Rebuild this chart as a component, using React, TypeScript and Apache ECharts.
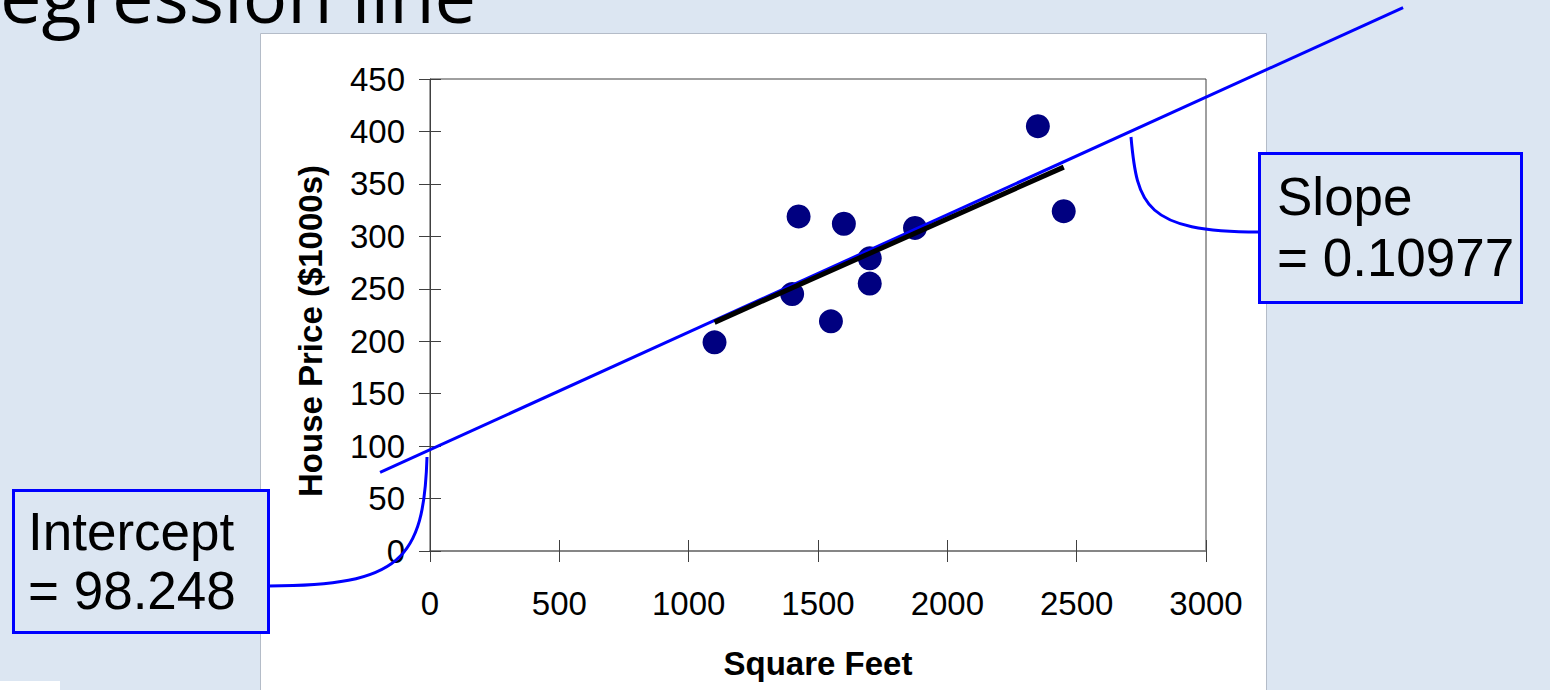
import React, { useEffect, useRef } from "react";
import * as echarts from "echarts";

const titleText = "egression line";
const xAxisTitle = "Square Feet";
const yAxisTitle = "House Price ($1000s)";

const squareFeet = [1400, 1600, 1700, 1875, 1100, 1550, 2350, 2450, 1425, 1700];
const housePrice = [245, 312, 279, 308, 199, 219, 405, 324, 319, 255];

// Excel trendline drawn over the data range
const trendX = [1100, 2450];
const trendY = [218, 366];

// hand-drawn extended regression line (blue)
const fitLineX = [-193, 3762];
const fitLineY = [75, 518];

const interceptLines = ["Intercept", "= 98.248"];
const slopeLines = ["Slope", "= 0.10977"];

const xMin = 0, xMax = 3000, xStep = 500;
const yMin = 0, yMax = 450, yStep = 50;

const FONT = "'Liberation Sans', Arial, Helvetica, sans-serif";
const BG = "#dce6f2";
const BLUE = "#0000ff";

export default function App() {
  const ref = useRef<HTMLDivElement>(null);

  useEffect(() => {
    const chart = echarts.init(ref.current!, null, { renderer: "svg" });

    const tickStyle = { color: "#404040", width: 1 };
    const labelStyle = { fontFamily: FONT, fontSize: 33, color: "#000" };
    const nameStyle = { fontFamily: FONT, fontSize: 33, fontWeight: "bold" as const, color: "#000" };
    const plain = (v: number) => String(v);

    const calloutText = (text: string, x: number, y: number) => ({
      type: "text",
      z: 21,
      silent: true,
      style: {
        text,
        x,
        y,
        fontFamily: FONT,
        fontSize: 53,
        fill: "#000",
        textAlign: "left",
        textVerticalAlign: "middle",
        verticalAlign: "middle",
      },
    });

    chart.setOption({
      animation: false,
      backgroundColor: BG,
      grid: {
        left: 430,
        top: 79,
        right: 344,
        bottom: 139,
        show: true,
        borderColor: "#404040",
        borderWidth: 1,
        backgroundColor: "transparent",
      },
      xAxis: [
        {
          type: "value",
          min: xMin,
          max: xMax,
          interval: xStep,
          name: xAxisTitle,
          nameLocation: "middle",
          nameGap: 96,
          nameTextStyle: nameStyle,
          axisLine: { show: true, onZero: false, lineStyle: { color: "#868686", width: 2 } },
          axisTick: { show: true, length: 11, lineStyle: tickStyle },
          axisLabel: { margin: 36, formatter: plain, ...labelStyle },
          splitLine: { show: false },
        },
        {
          type: "value",
          min: xMin,
          max: xMax,
          interval: xStep,
          position: "bottom",
          axisLine: { show: false },
          axisTick: { show: true, inside: true, length: 11, lineStyle: tickStyle },
          axisLabel: { show: false },
          splitLine: { show: false },
        },
      ],
      yAxis: [
        {
          type: "value",
          min: yMin,
          max: yMax,
          interval: yStep,
          name: yAxisTitle,
          nameLocation: "middle",
          nameGap: 103,
          nameRotate: 90,
          nameTextStyle: { ...nameStyle, padding: [0, 32, 0, 0] },
          axisLine: { show: true, onZero: false, lineStyle: { color: "#404040", width: 1 } },
          axisTick: { show: true, length: 11, lineStyle: tickStyle },
          axisLabel: { margin: 25, formatter: plain, ...labelStyle },
          splitLine: { show: false },
        },
        {
          type: "value",
          min: yMin,
          max: yMax,
          interval: yStep,
          position: "left",
          axisLine: { show: false },
          axisTick: { show: true, inside: true, length: 11, lineStyle: tickStyle },
          axisLabel: { show: false },
          splitLine: { show: false },
        },
      ],
      series: [
        {
          type: "scatter",
          name: "Observed",
          data: squareFeet.map((x, i) => [x, housePrice[i]]),
          symbol: "circle",
          symbolSize: 24,
          itemStyle: { color: "#000080", opacity: 1 },
          z: 2,
        },
        {
          type: "custom",
          name: "Regression line",
          clip: false,
          data: [[fitLineX[0], fitLineY[0], fitLineX[1], fitLineY[1]]],
          encode: { x: [0, 2], y: [1, 3] },
          renderItem: (_params: any, api: any) => {
            const p1 = api.coord([api.value(0), api.value(1)]);
            const p2 = api.coord([api.value(2), api.value(3)]);
            return {
              type: "line",
              shape: { x1: p1[0], y1: p1[1], x2: p2[0], y2: p2[1] },
              style: { stroke: BLUE, lineWidth: 3 },
            };
          },
          z: 3,
        },
        {
          type: "line",
          name: "Trendline",
          data: trendX.map((x, i) => [x, trendY[i]]),
          symbol: "none",
          lineStyle: { color: "#000", width: 5 },
          z: 4,
        },
      ],
      graphic: [
        {
          type: "rect",
          z: -10,
          silent: true,
          shape: { x: 260.5, y: 33.5, width: 1006, height: 700 },
          style: { fill: "#fff", stroke: "#b4bcc8", lineWidth: 1 },
        },
        {
          type: "rect",
          z: -10,
          silent: true,
          shape: { x: 0, y: 681, width: 60, height: 9 },
          style: { fill: "#fff" },
        },
        {
          type: "text",
          z: 20,
          silent: true,
          style: {
            text: titleText,
            x: 0,
            y: -6,
            fontFamily: "'Open Sans', 'Noto Sans', sans-serif",
            fontSize: 74,
            fill: "#000",
            textAlign: "left",
            textVerticalAlign: "middle",
            verticalAlign: "middle",
          },
        },
        {
          type: "bezierCurve",
          z: 19,
          silent: true,
          shape: { x1: 269, y1: 586, cpx1: 400, cpy1: 586, cpx2: 424, cpy2: 560, x2: 427, y2: 457 },
          style: { stroke: BLUE, lineWidth: 3, fill: null },
        },
        {
          type: "rect",
          z: 20,
          silent: true,
          shape: { x: 13.5, y: 490.5, width: 255, height: 142 },
          style: { fill: BG, stroke: BLUE, lineWidth: 3 },
        },
        calloutText(interceptLines[0], 28, 531),
        calloutText(interceptLines[1], 28, 590),
        {
          type: "bezierCurve",
          z: 19,
          silent: true,
          shape: { x1: 1259, y1: 232, cpx1: 1145, cpy1: 232, cpx2: 1137, cpy2: 205, x2: 1131, y2: 137 },
          style: { stroke: BLUE, lineWidth: 3, fill: null },
        },
        {
          type: "rect",
          z: 20,
          silent: true,
          shape: { x: 1259.5, y: 153.5, width: 262, height: 149 },
          style: { fill: BG, stroke: BLUE, lineWidth: 3 },
        },
        calloutText(slopeLines[0], 1277, 196),
        calloutText(slopeLines[1], 1277, 257),
      ],
    });

    return () => chart.dispose();
  }, []);

  return (
    <div
      ref={ref}
      style={{ position: "absolute", left: 0, top: 0, width: 1550, height: 690 }}
    />
  );
}
